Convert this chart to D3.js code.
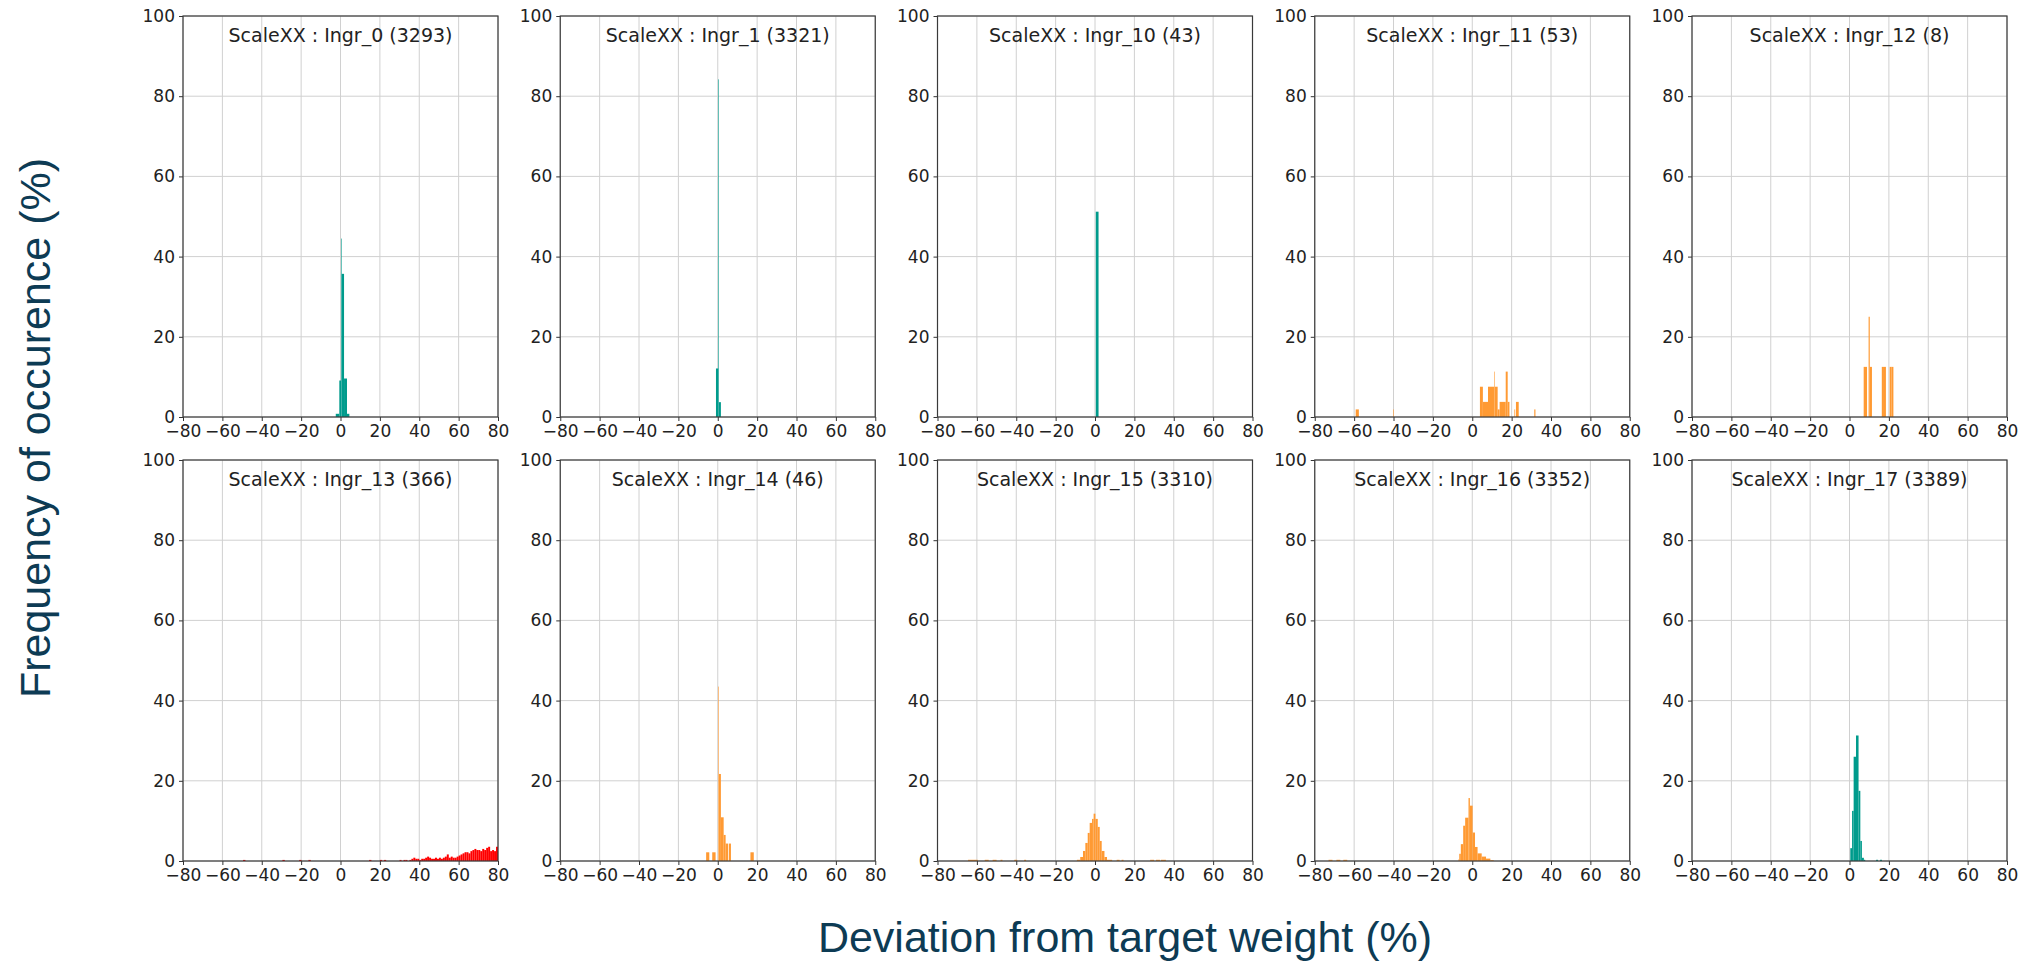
<!DOCTYPE html>
<html>
<head>
<meta charset="utf-8">
<script src="https://cdn.jsdelivr.net/npm/d3@7"></script>
<style>
  html, body { margin: 0; padding: 0; background: #ffffff; }
  svg { display: block; }
</style>
</head>
<body>
<div id="chart"></div>
<script>
// ---------------- DATA ----------------
// Panel titles (scale : ingredient (number of samples))
const panelTitles = [
  "ScaleXX : Ingr_0 (3293)", "ScaleXX : Ingr_1 (3321)", "ScaleXX : Ingr_10 (43)",
  "ScaleXX : Ingr_11 (53)", "ScaleXX : Ingr_12 (8)", "ScaleXX : Ingr_13 (366)",
  "ScaleXX : Ingr_14 (46)", "ScaleXX : Ingr_15 (3310)", "ScaleXX : Ingr_16 (3352)",
  "ScaleXX : Ingr_17 (3389)"
];
// Status class of each panel (drives colour)
const panelStatus = ["ok", "ok", "ok", "warn", "warn", "bad", "warn", "warn", "warn", "ok"];

const xTicks = [-80, -60, -40, -20, 0, 20, 40, 60, 80];
const yTicks = [0, 20, 40, 60, 80, 100];

// Histogram bins per panel: [bin start (%), bin end (%), frequency (%)]
const ingr0 = [[-2.4,-0.6,0.8],[-0.6,0.3,9.1],[0.3,0.6,44.5],[0.6,1.8,35.7],[1.8,3.3,9.6],[3.3,4.5,0.8]];
const ingr1 = [[-0.9,0.25,12.1],[0.25,0.55,84.2],[0.55,1.6,3.7]];
const ingr10 = [[0.4,1.8,51.2]];
const ingr11 = [[-59.2,-57.6,1.89],[-40.2,-39.9,1.89],[3.9,5.4,7.55],[5.4,8.0,3.77],[8.0,11.1,7.55],
  [11.1,11.4,11.32],[11.4,12.9,7.55],[12.9,13.9,1.89],[13.9,17.0,3.77],[17.0,18.0,11.32],
  [18.0,18.9,3.77],[21.4,21.8,1.89],[22.2,23.6,3.77],[31.5,32.1,1.89]];
const ingr12 = [[7.2,8.9,12.5],[9.7,10.3,25],[10.3,11.4,12.5],[16.4,17.5,12.5],[17.5,18.5,12.5],
  [20.4,21.4,12.5],[21.4,22.3,12.5]];
const ingr13 = [[-49.5,-48.3,0.27],[-29.5,-28.3,0.27],[-21,-19.8,0.27],[-16.3,-15.1,0.27],
  [14.5,15.7,0.27],[20,21.2,0.27],[22,23.2,0.27],
  [30,31,0.27],[32,33,0.27],[33,34,0.27],[35,36,0.27],[36,37,0.55],[37,38,0.82],[38,39,0.55],
  [39,40,0.55],[40,41,0.27],[41,42,0.55],[42,43,0.55],[43,44,0.82],[44,45,1.09],[45,46,0.82],
  [46,47,0.55],[47,48,0.55],[48,49,0.82],[49,50,0.55],[50,51,0.82],[51,52,0.55],[52,53,0.82],
  [53,54,1.09],[54,55,1.64],[55,56,0.82],[56,57,1.09],[57,58,0.82],[58,59,0.82],[59,60,1.09],
  [60,61,1.37],[61,62,1.64],[62,63,1.91],[63,64,2.19],[64,65,2.19],[65,66,1.91],[66,67,2.46],
  [67,68,2.73],[68,69,3.01],[69,70,2.73],[70,71,2.73],[71,72,2.46],[72,73,3.01],[73,74,2.73],
  [74,75,3.28],[75,76,3.55],[76,77,2.46],[77,78,2.73],[78,79,2.46],[79,80,3.55]];
const ingr14 = [[-5.9,-4.3,2.17],[-2.8,-1.1,2.17],[0.3,0.6,43.5],[0.6,1.6,21.7],[1.6,3.0,10.9],
  [3.0,4.0,6.5],[4.0,5.2,4.35],[5.6,6.7,4.35],[16.6,18.3,2.17]];
const ingr15 = [[-64.5,-59.5,0.3],[-56,-54,0.3],[-52,-50,0.3],[-48,-47,0.3],[-41,-39.5,0.3],[-36,-35,0.3],
  [-9.2,-7.5,0.3],[-7.5,-6.1,1.0],[-6.1,-4.9,2.5],[-4.9,-3.7,4.5],[-3.7,-2.7,7.0],[-2.7,-1.5,9.5],
  [-1.5,-0.7,10.5],[-0.7,0.2,11.8],[0.2,1.4,10.5],[1.4,2.4,8.5],[2.4,3.4,5.0],[3.4,4.8,2.5],
  [4.8,6.1,1.0],[6.1,8.7,0.3],
  [11,12.5,0.3],[13.5,14.5,0.3],[28,30,0.3],[31,33,0.3],[33.5,36,0.3]];
const ingr16 = [[-73,-71,0.3],[-69,-67,0.3],[-65.5,-63.5,0.3],
  [-7.0,-6.6,0.4],[-6.6,-5.8,1.8],[-5.8,-4.6,4.2],[-4.6,-3.6,8.8],[-3.6,-1.9,10.8],[-1.9,-1.2,15.7],
  [-1.2,0.2,13.8],[0.2,1.4,7.1],[1.4,2.7,3.5],[2.7,4.8,1.9],[4.8,7.0,1.1],[7.0,9.2,0.6],[9.2,10.9,0.2]];
const ingr17 = [[0.4,1.3,3.2],[1.3,2.1,12.5],[2.1,3.3,26.0],[3.3,4.6,31.3],[4.6,5.5,17.5],
  [5.5,6.3,5.0],[6.3,7.3,0.8],[7.3,8.0,0.3],[13.5,14.5,0.3],[15.5,16.5,0.3]];

const panelBins = [ingr0, ingr1, ingr10, ingr11, ingr12, ingr13, ingr14, ingr15, ingr16, ingr17];

const xLabel = "Deviation from target weight (%)";
const yLabel = "Frequency of occurence (%)";

// ---------------- STYLE / LAYOUT ----------------
const statusColor = { ok: "#009b8c", warn: "#ff9a33", bad: "#ff0000" };
const W = 2024, H = 964;
const panelW = 315, panelH = 401;
const firstLeft = 183, colStep = 377.25;
const rowTops = [16, 460];
const tickFont = "'DejaVu Sans', sans-serif";

const svg = d3.select("#chart").append("svg")
  .attr("width", W).attr("height", H)
  .style("background", "#fff");

const x = d3.scaleLinear().domain([-80, 80]).range([0, panelW]);
const y = d3.scaleLinear().domain([0, 100]).range([panelH, 0]);

panelTitles.forEach((title, i) => {
  const row = Math.floor(i / 5), col = i % 5;
  const g = svg.append("g")
    .attr("transform", `translate(${firstLeft + col * colStep},${rowTops[row]})`);

  const clipId = "clip" + i;
  g.append("clipPath").attr("id", clipId)
    .append("rect").attr("width", panelW).attr("height", panelH);

  // grid
  g.append("g").selectAll("line.vx").data(xTicks).join("line")
    .attr("x1", d => x(d)).attr("x2", d => x(d))
    .attr("y1", 0).attr("y2", panelH)
    .attr("stroke", "#d0d0d0").attr("stroke-width", 1);
  g.append("g").selectAll("line.hy").data(yTicks).join("line")
    .attr("y1", d => y(d)).attr("y2", d => y(d))
    .attr("x1", 0).attr("x2", panelW)
    .attr("stroke", "#d0d0d0").attr("stroke-width", 1);

  // bars
  g.append("g").attr("clip-path", `url(#${clipId})`)
    .selectAll("rect").data(panelBins[i]).join("rect")
    .attr("x", d => x(d[0]))
    .attr("width", d => Math.max(0, x(d[1]) - x(d[0])))
    .attr("y", d => y(d[2]))
    .attr("height", d => y(0) - y(d[2]))
    .attr("fill", statusColor[panelStatus[i]]);

  // axes
  const yAxis = d3.axisLeft(y).tickValues(yTicks).tickSize(4).tickPadding(4)
    .tickFormat(d3.format("d"));
  const xAxis = d3.axisBottom(x).tickValues(xTicks).tickSize(4).tickPadding(4)
    .tickFormat(d3.format("d"));

  const ya = g.append("g").call(yAxis);
  const xa = g.append("g").attr("transform", `translate(0,${panelH})`).call(xAxis);
  [ya, xa].forEach(a => {
    a.select(".domain").remove();
    a.selectAll(".tick line").attr("stroke", "#333");
    a.selectAll(".tick text")
      .attr("fill", "#222")
      .style("font-family", tickFont)
      .style("font-size", "17px");
  });

  // frame
  g.append("rect")
    .attr("x", 0).attr("y", 0).attr("width", panelW).attr("height", panelH)
    .attr("fill", "none").attr("stroke", "#3a3a3a").attr("stroke-width", 1.2);

  // title
  g.append("text")
    .attr("x", panelW / 2).attr("y", 25.5)
    .attr("text-anchor", "middle")
    .attr("fill", "#222")
    .style("font-family", tickFont)
    .style("font-size", "19px")
    .text(title);
});

// global axis labels
svg.append("text")
  .attr("x", 1125).attr("y", 952)
  .attr("text-anchor", "middle")
  .attr("fill", "#0d3b54")
  .style("font-family", "'Liberation Sans', Arial, sans-serif")
  .style("font-size", "43px")
  .text(xLabel);

svg.append("text")
  .attr("transform", "translate(50,428) rotate(-90)")
  .attr("text-anchor", "middle")
  .attr("fill", "#0d3b54")
  .style("font-family", "'Liberation Sans', Arial, sans-serif")
  .style("font-size", "43px")
  .text(yLabel);
</script>
</body>
</html>
